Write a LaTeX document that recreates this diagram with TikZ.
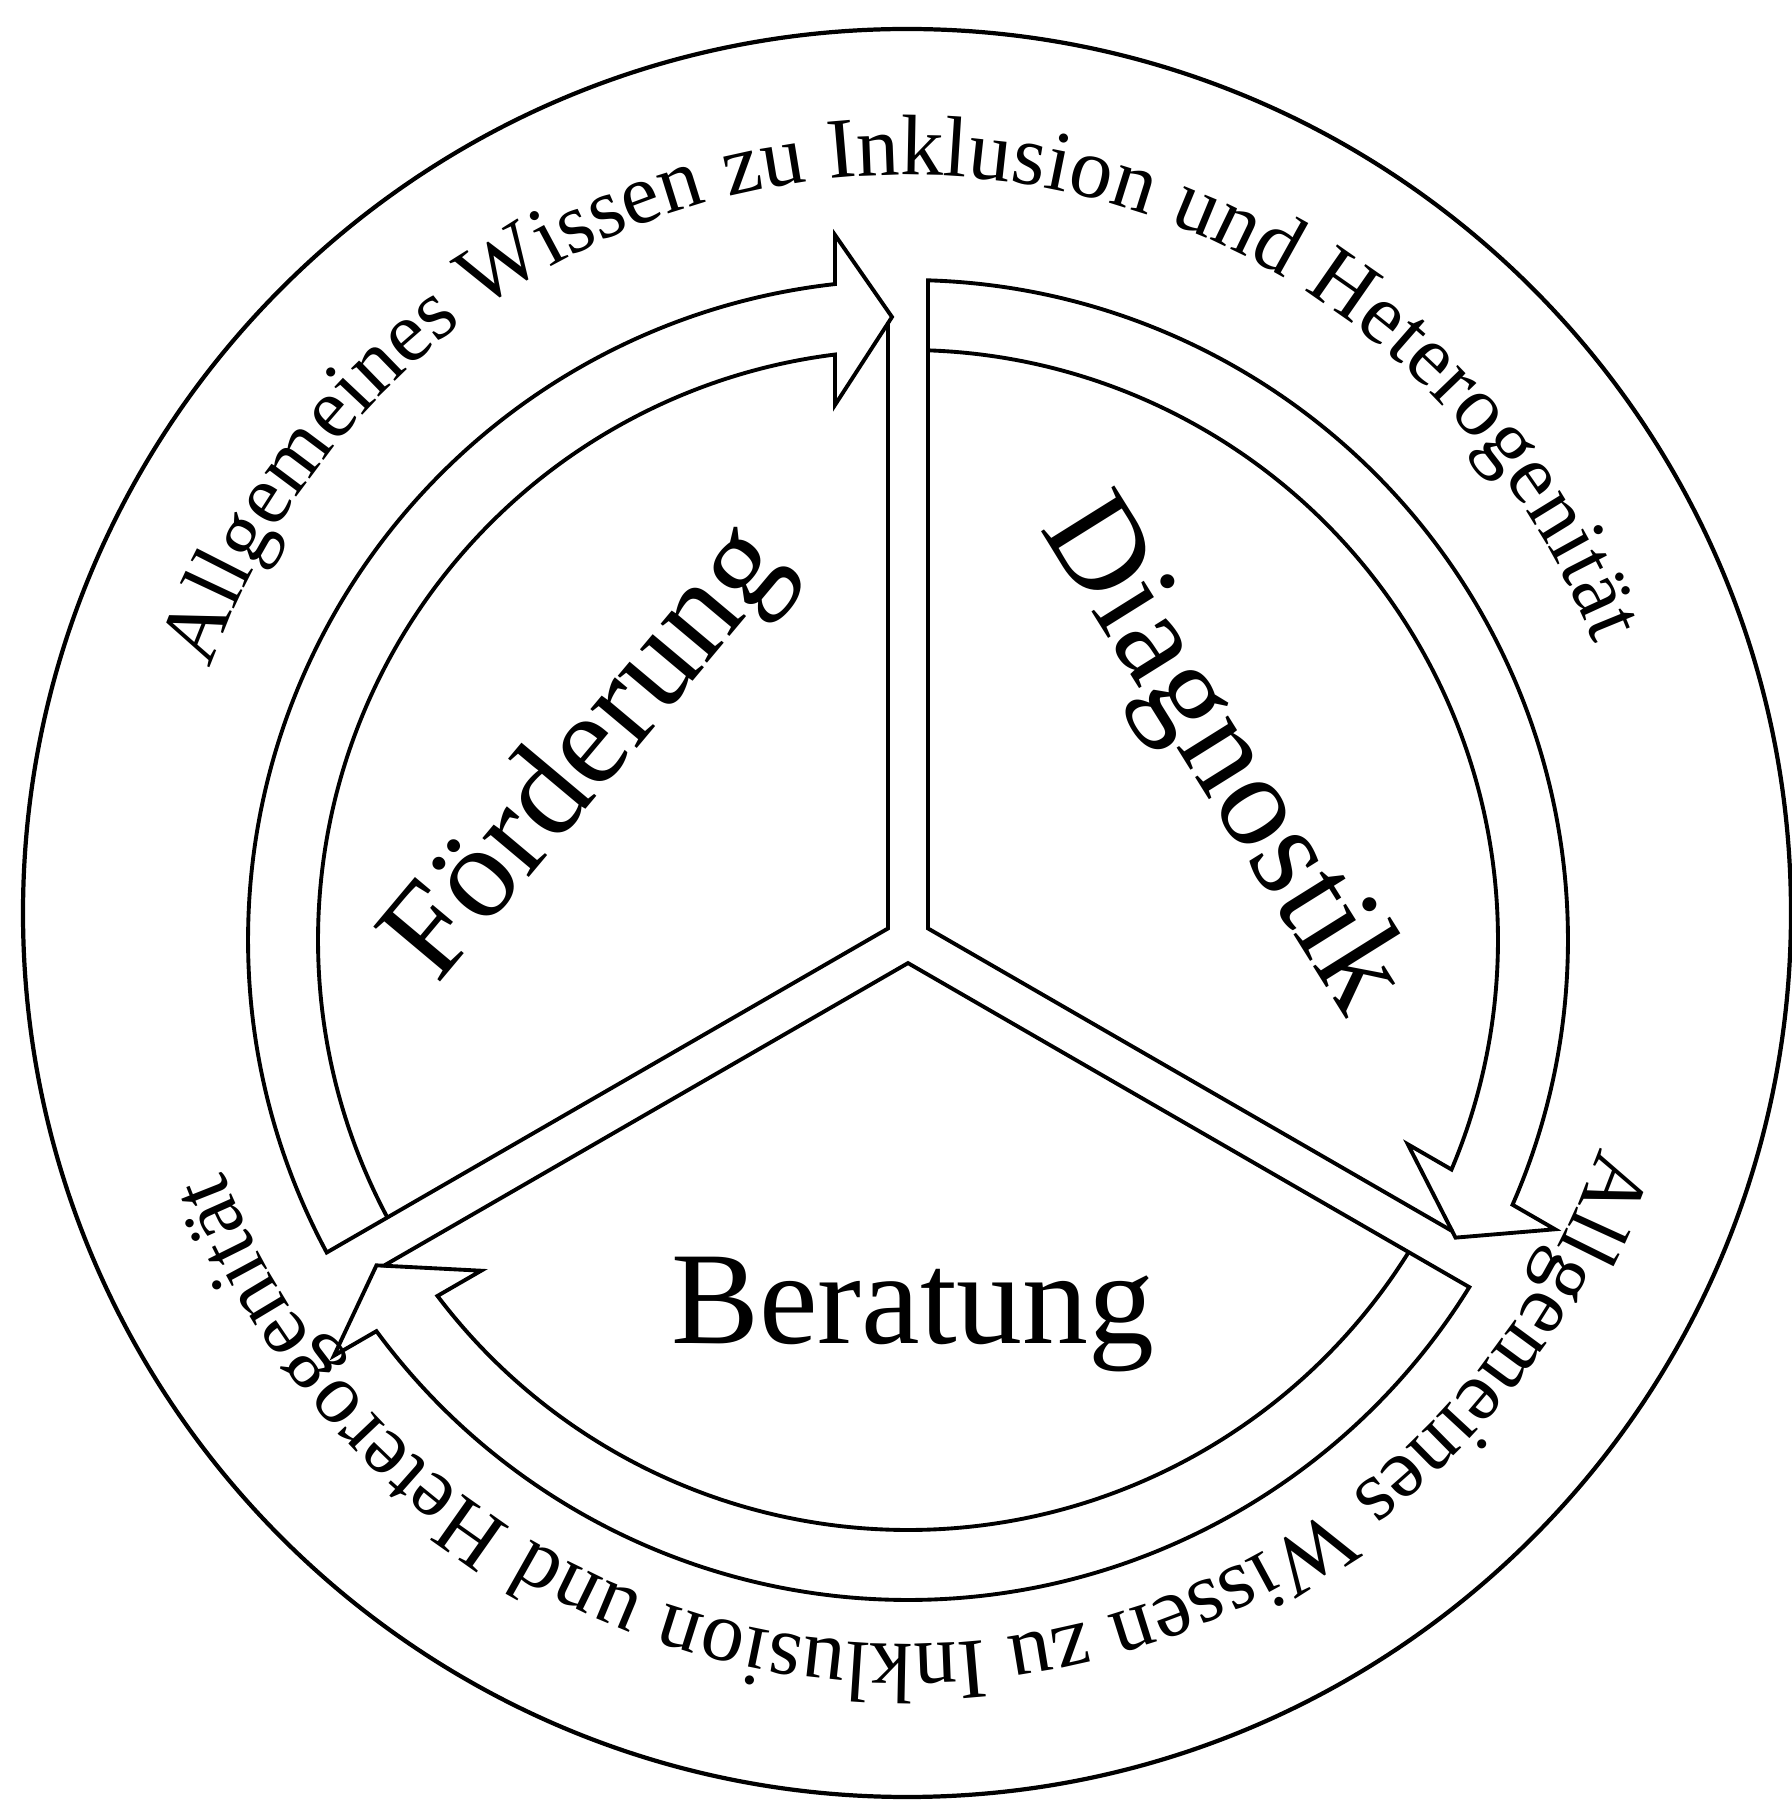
\documentclass[tikz,border=0pt]{standalone}
\usepackage{fontspec}
\setmainfont{Liberation Serif}
\usetikzlibrary{decorations.text}

\tikzset{
  band/.style={draw=black, line width=1.1pt, line join=miter},
  ring/.style={draw=black, line width=1.2pt},
  sectorlabel/.style={font=\fontsize{37.5}{40}\selectfont, inner sep=0pt}
}
\newcommand{\ringfont}{\fontsize{24.4}{30}\selectfont}

\begin{document}
\begin{tikzpicture}[x=0.01cm, y=0.01cm]
  \useasboundingbox (0,0) rectangle (1792,1805);
  % outer ring
  \draw[ring] (907,892) circle[radius=884];
  % ring text, top and bottom
  \path[decorate, decoration={text along path, text align=center,
      text={|\ringfont|Allgemeines Wissen zu Inklusion und Heterogenität}}]
    (907,892) ++(181:738) arc[start angle=181, end angle=1, radius=738];
  \path[decorate, decoration={text along path, text align=center,
      text={|\ringfont|Allgemeines Wissen zu Inklusion und Heterogenität}}]
    (907,892) ++(1:731) arc[start angle=1, end angle=-179, radius=731];
  % three block arrows, head spoke at \rot
  \foreach \rot in {90,-30,210}{
    \begin{scope}[shift={(908,865)}, rotate=\rot]
      \draw[band] (60:23.09) -- ({120-asin(20/660)}:660)
        arc[start angle={120-asin(20/660)}, end angle={asin(73/660)}, radius=660]
        -- (705,73) -- (623,16) -- (616.8,20) -- cycle;
      \draw[band] ({120-asin(20/590)}:590)
        arc[start angle={120-asin(20/590)}, end angle={asin(73/590)}, radius=590]
        -- (535,73) -- (616.8,20);
    \end{scope}
  }
  % labels
  \node[sectorlabel, rotate=50] (foerderung) at (590,1050) {Förderung};
  \node[sectorlabel, rotate=-58] (diagnostik) at (1220,1048) {Diagnostik};
  \node[sectorlabel, anchor=base] (beratung) at (913,461) {Beratung};
\end{tikzpicture}
\end{document}
